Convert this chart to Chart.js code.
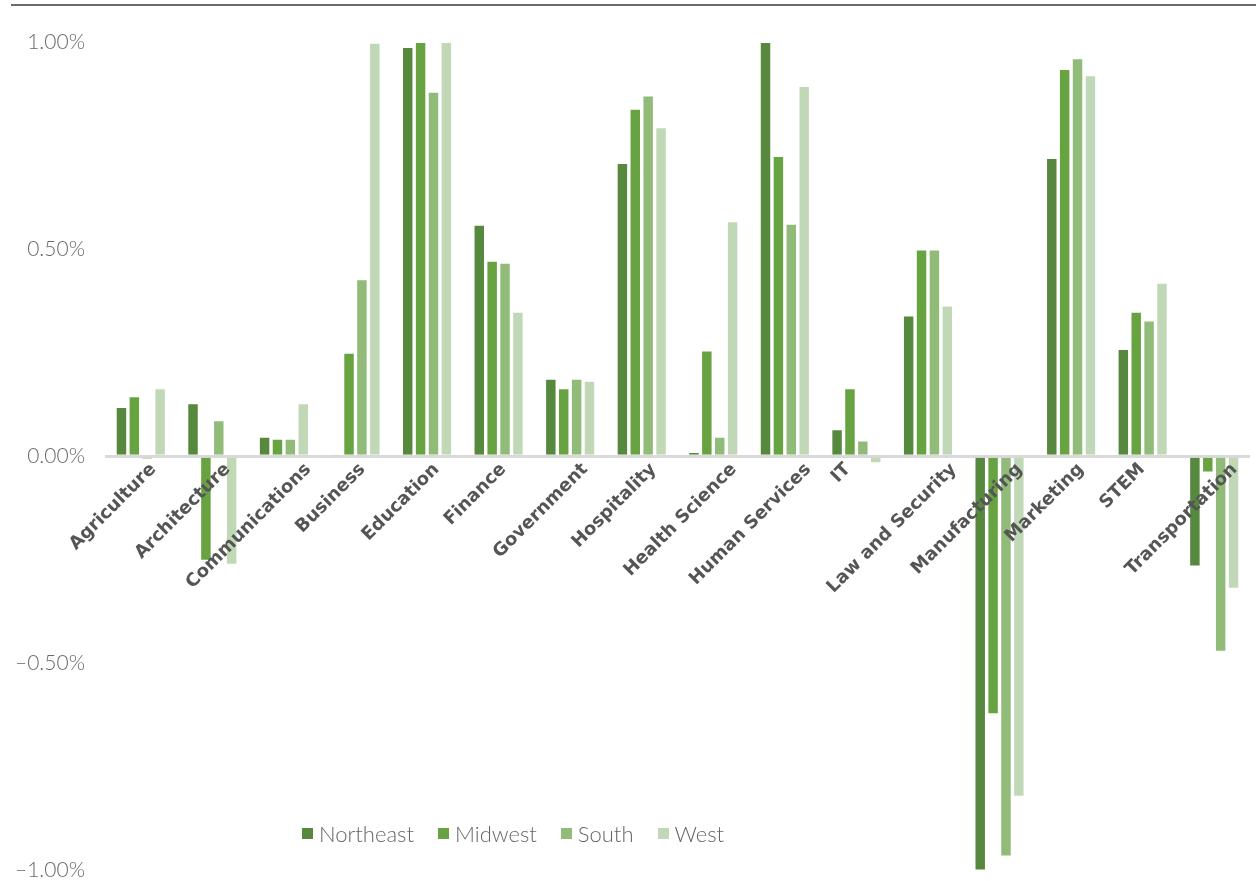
<!DOCTYPE html>
<html>
<head>
<meta charset="utf-8">
<script src="https://cdn.jsdelivr.net/npm/chart.js@4.4.1/dist/chart.umd.min.js"></script>
<style>
  body { margin: 0; background: #fff; }
  #wrap { position: relative; width: 1256px; height: 881px; }
  #chart { display: block; }
  #legend { position: absolute; left: 302px; top: 820px; display: flex; gap: 24px;
            font: 300 22px Lato, sans-serif; color: #666; }
  #legend span.item { display: flex; align-items: center; }
  #legend i { display: inline-block; width: 11px; height: 11px; margin-right: 6px; }
</style>
</head>
<body>
<div id="wrap">
  <canvas id="chart" width="1256" height="881"></canvas>
  <div id="legend"></div>
</div>
<script>
// career clusters, change by region (percentage points)
const categories = ['Agriculture', 'Architecture', 'Communications', 'Business', 'Education', 'Finance',
  'Government', 'Hospitality', 'Health Science', 'Human Services', 'IT', 'Law and Security',
  'Manufacturing', 'Marketing', 'STEM', 'Transportation'];

const northeast = [0.119, 0.128, 0.047, 0.003, 0.988, 0.559, 0.187, 0.708, 0.010, 1.000, 0.065, 0.340, -1.000, 0.720, 0.259, -0.266];
const midwest   = [0.145, -0.252, 0.042, 0.250, 1.000, 0.472, 0.164, 0.839, 0.255, 0.725, 0.164, 0.499, -0.623, 0.935, 0.349, -0.039];
const south     = [-0.007, 0.087, 0.042, 0.427, 0.880, 0.467, 0.187, 0.871, 0.047, 0.561, 0.038, 0.499, -0.966, 0.961, 0.328, -0.472];
const west      = [0.164, -0.262, 0.128, 0.998, 1.000, 0.349, 0.182, 0.794, 0.567, 0.894, -0.017, 0.364, -0.822, 0.920, 0.419, -0.320];

const yTicks = [-1, -0.5, 0, 0.5, 1];

const series = [
  { label: 'Northeast', data: northeast, color: '#56893e' },
  { label: 'Midwest',   data: midwest,   color: '#68a342' },
  { label: 'South',     data: south,     color: '#90bb79' },
  { label: 'West',      data: west,      color: '#c1d8b7' }
];

const fmtPct = v => (v < 0 ? '\u2013' : '') + Math.abs(v).toFixed(2) + '%';

// thin rule across the top of the figure
const topRule = {
  id: 'topRule',
  beforeDraw(chart) {
    const ctx = chart.ctx;
    ctx.save();
    ctx.fillStyle = '#6b6b6b';
    ctx.fillRect(11, 4, chart.width - 11, 2);
    ctx.restore();
  }
};

// category names hang diagonally under the zero line, on top of the bars
const slantLabels = {
  id: 'slantLabels',
  afterDatasetsDraw(chart) {
    const { ctx, scales: { x, y } } = chart;
    const y0 = y.getPixelForValue(0);
    ctx.save();
    ctx.font = 'bold 18px "DejaVu Sans"';
    ctx.fillStyle = '#555';
    ctx.textAlign = 'right';
    ctx.textBaseline = 'top';
    categories.forEach((name, i) => {
      const w = ctx.measureText(name).width;
      const px = x.getPixelForValue(i) + w * 0.22 - 19;
      ctx.save();
      ctx.translate(px, y0 + 4);
      ctx.rotate(-Math.PI / 4);
      ctx.fillText(name, 0, 0);
      ctx.restore();
    });
    ctx.restore();
  }
};

const chart = new Chart(document.getElementById('chart').getContext('2d'), {
  type: 'bar',
  data: {
    labels: categories,
    datasets: series.map(s => ({
      label: s.label,
      data: s.data,
      backgroundColor: s.color,
      borderColor: 'rgba(255,255,255,0.45)',
      borderWidth: 1,
      barPercentage: 0.89,
      categoryPercentage: 0.72
    }))
  },
  options: {
    responsive: false,
    animation: false,
    layout: { padding: { top: 42, bottom: 10, right: 6, left: 0 } },
    plugins: {
      legend: { display: false },
      tooltip: { enabled: false }
    },
    scales: {
      x: { display: false },
      y: {
        min: -1,
        max: 1,
        afterFit: scale => { scale.width = 105; },
        afterBuildTicks: scale => { scale.ticks = yTicks.map(v => ({ value: v })); },
        border: { display: false },
        grid: {
          drawTicks: true,
          tickLength: 20,
          tickColor: 'rgba(0,0,0,0)',
          color: c => c.tick && c.tick.value === 0 ? '#d9d9d9' : 'rgba(0,0,0,0)',
          lineWidth: c => c.tick && c.tick.value === 0 ? 3 : 0
        },
        ticks: {
          padding: 0,
          color: '#6a6a6a',
          font: { family: 'Lato', size: 21, weight: 300, lineHeight: 1 },
          callback: v => fmtPct(v)
        }
      }
    }
  },
  plugins: [topRule, slantLabels]
});

// legend row built from the datasets
const legendEl = document.getElementById('legend');
chart.data.datasets.forEach(ds => {
  const item = document.createElement('span');
  item.className = 'item';
  const sw = document.createElement('i');
  sw.style.background = ds.backgroundColor;
  item.appendChild(sw);
  item.appendChild(document.createTextNode(ds.label));
  legendEl.appendChild(item);
});
</script>
</body>
</html>
